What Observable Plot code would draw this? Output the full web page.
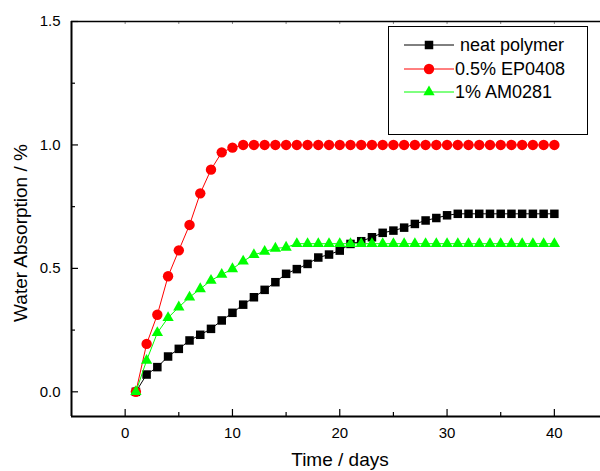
<!DOCTYPE html>
<html><head><meta charset="utf-8">
<script src="https://cdn.jsdelivr.net/npm/d3@7"></script>
<script src="https://cdn.jsdelivr.net/npm/@observablehq/plot@0.6"></script>
<style>
body{margin:0;background:#fff;}
#wrap{position:relative;width:600px;height:471px;overflow:hidden;font-family:"Liberation Sans",Arial,sans-serif;}
#legend{position:absolute;left:388px;top:26px;width:200px;height:109px;border:1px solid #000;background:#fff;box-sizing:border-box;}
.row{position:absolute;left:0;height:24px;width:198px;}
.row svg{position:absolute;left:0;top:0;}
.row span{position:absolute;left:66px;top:0;line-height:24px;font-size:18px;white-space:pre;color:#000;}
</style></head><body><div id="wrap"></div>
<script>
const days = [1,2,3,4,5,6,7,8,9,10,11,12,13,14,15,16,17,18,19,20,21,22,23,24,25,26,27,28,29,30,31,32,33,34,35,36,37,38,39,40];
const neatPolymer = [0,0.07,0.10,0.143,0.174,0.208,0.231,0.255,0.289,0.32,0.353,0.383,0.413,0.444,0.478,0.497,0.518,0.544,0.556,0.572,0.599,0.610,0.626,0.644,0.653,0.665,0.680,0.694,0.704,0.715,0.721,0.721,0.721,0.721,0.721,0.721,0.721,0.721,0.721,0.721];
const ep0408 = [0,0.194,0.312,0.468,0.573,0.676,0.804,0.900,0.970,0.989,1.0,1.0,1.0,1.0,1.0,1.0,1.0,1.0,1.0,1.0,1.0,1.0,1.0,1.0,1.0,1.0,1.0,1.0,1.0,1.0,1.0,1.0,1.0,1.0,1.0,1.0,1.0,1.0,1.0,1.0];
const am0281 = [0,0.127,0.239,0.300,0.343,0.383,0.417,0.451,0.475,0.498,0.529,0.555,0.568,0.581,0.585,0.6,0.6,0.6,0.6,0.6,0.6,0.6,0.6,0.6,0.6,0.6,0.6,0.6,0.6,0.6,0.6,0.6,0.6,0.6,0.6,0.6,0.6,0.6,0.6,0.6];
const seriesNames = ["neat polymer", "0.5% EP0408", "1% AM0281"];
const seriesColors = ["#000000", "#ff0000", "#00ff00"];
const seriesSymbols = ["square", "circle", "triangle"];
const seriesRadius = [4.8, 5.2, 4.2];
const xDomain = [-5, 44.3];
const yDomain = [-0.1, 1.5];
const xMajorTicks = [0, 10, 20, 30, 40];
const xMinorTicks = [5, 15, 25, 35];
const xTopTicks = [0, 5, 10, 15, 20, 25, 30, 35, 40];
const yMajorTicks = [0, 0.5, 1.0, 1.5];
const yMinorTicks = [0.25, 0.75, 1.25];
const xTitle = "Time / days";
const yTitle = "Water Absorption / %";

const seriesValues = [neatPolymer, ep0408, am0281];
const series = seriesNames.map((name, i) => days.map((d, j) => ({day: d, value: seriesValues[i][j], name})));

const seriesMarks = series.flatMap((data, i) => [
  Plot.line(data, {x: "day", y: "value", stroke: seriesColors[i], strokeWidth: 1}),
  Plot.dot(data, {x: "day", y: "value", symbol: seriesSymbols[i], r: seriesRadius[i], fill: seriesColors[i], stroke: "none"})
]);

const chart = Plot.plot({
  width: 600,
  height: 471,
  marginLeft: 71,
  marginRight: 0,
  marginTop: 21,
  marginBottom: 55,
  x: {domain: xDomain},
  y: {domain: yDomain},
  style: {fontFamily: "'Liberation Sans', Arial, sans-serif", fontSize: "15px", background: "white", color: "black"},
  marks: [
    Plot.axisY({ticks: yMajorTicks, tickSize: -7, tickPadding: 18, tickFormat: d3.format(".1f"), label: null, strokeWidth: 1.2}),
    Plot.axisY({ticks: yMinorTicks, tickSize: -4, tickFormat: () => "", label: null, strokeWidth: 1.2}),
    Plot.axisX({ticks: xMajorTicks, tickSize: -7, tickPadding: 18, tickFormat: d3.format("d"), label: null, strokeWidth: 1.2}),
    Plot.axisX({ticks: xMinorTicks, tickSize: -4, tickFormat: () => "", label: null, strokeWidth: 1.2}),
    Plot.axisX({anchor: "top", ticks: xTopTicks, tickSize: -2, tickFormat: () => "", label: null, stroke: "#888"}),
    Plot.ruleX([xDomain[0]], {stroke: "black", strokeWidth: 2}),
    Plot.ruleY([yDomain[0]], {stroke: "black", strokeWidth: 2}),
    Plot.ruleY([yDomain[1]], {stroke: "black", strokeWidth: 1.5}),
    ...seriesMarks,
    Plot.text([xTitle], {frameAnchor: "bottom", textAnchor: "middle", lineAnchor: "middle", dx: 4, dy: 43, fontSize: 19, fill: "black"}),
    Plot.text([yTitle], {frameAnchor: "left", textAnchor: "middle", lineAnchor: "middle", rotate: -90, dx: -51, dy: 14, fontSize: 19, fill: "black"})
  ]
});

const wrap = document.getElementById("wrap");
wrap.appendChild(chart);

const legend = document.createElement("div");
legend.id = "legend";
const rowTops = [6, 30, 53];
const symbolTypes = {square: d3.symbolSquare, circle: d3.symbolCircle, triangle: d3.symbolTriangle};
seriesNames.forEach((name, i) => {
  const row = document.createElement("div");
  row.className = "row";
  row.style.top = rowTops[i] + "px";
  const path = d3.symbol(symbolTypes[seriesSymbols[i]], Math.PI * seriesRadius[i] * seriesRadius[i])();
  row.innerHTML = `<svg width="70" height="24"><line x1="15" x2="65" y1="12" y2="12" stroke="${seriesColors[i]}" stroke-width="1"/><path transform="translate(40,12)" d="${path}" fill="${seriesColors[i]}"/></svg><span>${i === 0 ? " " : ""}${name}</span>`;
  legend.appendChild(row);
});
wrap.appendChild(legend);
</script>
</body></html>
